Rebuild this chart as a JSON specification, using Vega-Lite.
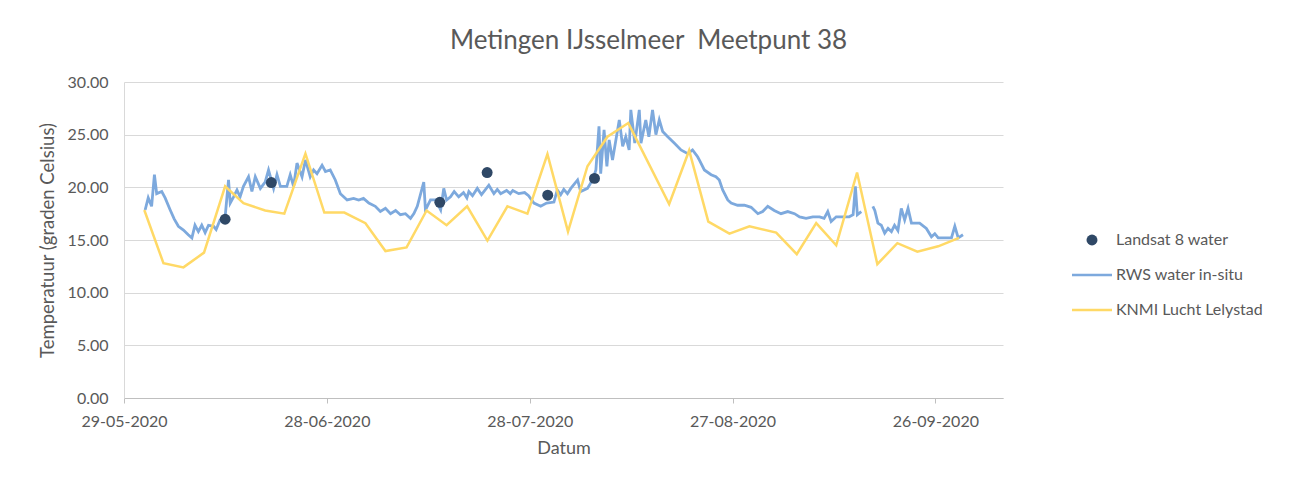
{
  "$schema": "https://vega.github.io/schema/vega-lite/v6.json",
  "width": 879,
  "height": 316,
  "autosize": {"type": "none"},
  "padding": {"left": 124, "top": 82, "right": 287, "bottom": 86},
  "background": "white",
  "title": {"text": "Metingen IJsselmeer\u00a0 Meetpunt 38", "font": "Lato", "fontSize": 26, "fontWeight": "normal", "color": "#595959", "anchor": "middle", "dx": 85, "offset": 20},
  "datasets": {
    "landsat": [
      {"datum": "2020-06-12T23:00", "temperatuur": 16.97},
      {"datum": "2020-06-19T19:00", "temperatuur": 20.45},
      {"datum": "2020-07-14T17:00", "temperatuur": 18.58},
      {"datum": "2020-07-21T17:00", "temperatuur": 21.4},
      {"datum": "2020-07-30T16:00", "temperatuur": 19.25},
      {"datum": "2020-08-06T14:00", "temperatuur": 20.85}
    ],
    "rws": [
      {"datum": "2020-06-01T03:00", "temperatuur": 17.85},
      {"datum": "2020-06-01T14:00", "temperatuur": 19.0},
      {"datum": "2020-06-02T02:00", "temperatuur": 18.2},
      {"datum": "2020-06-02T12:00", "temperatuur": 21.2},
      {"datum": "2020-06-02T20:00", "temperatuur": 19.4},
      {"datum": "2020-06-03T14:00", "temperatuur": 19.6},
      {"datum": "2020-06-04T02:00", "temperatuur": 19.0},
      {"datum": "2020-06-04T20:00", "temperatuur": 17.85},
      {"datum": "2020-06-05T10:00", "temperatuur": 17.0},
      {"datum": "2020-06-06T01:00", "temperatuur": 16.3},
      {"datum": "2020-06-06T19:00", "temperatuur": 15.95},
      {"datum": "2020-06-07T12:00", "temperatuur": 15.5},
      {"datum": "2020-06-08T01:00", "temperatuur": 15.2},
      {"datum": "2020-06-08T12:00", "temperatuur": 16.4},
      {"datum": "2020-06-09T00:00", "temperatuur": 15.8},
      {"datum": "2020-06-09T12:00", "temperatuur": 16.4},
      {"datum": "2020-06-10T00:00", "temperatuur": 15.7},
      {"datum": "2020-06-10T12:00", "temperatuur": 16.4},
      {"datum": "2020-06-11T06:00", "temperatuur": 16.3},
      {"datum": "2020-06-11T15:00", "temperatuur": 16.0},
      {"datum": "2020-06-12T05:00", "temperatuur": 16.9},
      {"datum": "2020-06-12T23:00", "temperatuur": 17.2},
      {"datum": "2020-06-13T11:00", "temperatuur": 20.7},
      {"datum": "2020-06-13T17:00", "temperatuur": 18.5},
      {"datum": "2020-06-14T05:00", "temperatuur": 19.1},
      {"datum": "2020-06-14T17:00", "temperatuur": 19.75},
      {"datum": "2020-06-15T04:00", "temperatuur": 19.1},
      {"datum": "2020-06-15T16:00", "temperatuur": 20.1},
      {"datum": "2020-06-16T10:00", "temperatuur": 21.0},
      {"datum": "2020-06-16T22:00", "temperatuur": 19.6},
      {"datum": "2020-06-17T10:00", "temperatuur": 21.0},
      {"datum": "2020-06-18T04:00", "temperatuur": 19.9},
      {"datum": "2020-06-18T21:00", "temperatuur": 20.5},
      {"datum": "2020-06-19T09:00", "temperatuur": 21.65},
      {"datum": "2020-06-20T03:00", "temperatuur": 19.9},
      {"datum": "2020-06-20T15:00", "temperatuur": 21.2},
      {"datum": "2020-06-21T03:00", "temperatuur": 20.1},
      {"datum": "2020-06-22T02:00", "temperatuur": 20.1},
      {"datum": "2020-06-22T14:00", "temperatuur": 21.2},
      {"datum": "2020-06-23T02:00", "temperatuur": 20.1},
      {"datum": "2020-06-23T14:00", "temperatuur": 22.3},
      {"datum": "2020-06-24T08:00", "temperatuur": 21.0},
      {"datum": "2020-06-24T20:00", "temperatuur": 22.6},
      {"datum": "2020-06-25T13:00", "temperatuur": 21.0},
      {"datum": "2020-06-26T01:00", "temperatuur": 21.65},
      {"datum": "2020-06-26T13:00", "temperatuur": 21.3},
      {"datum": "2020-06-27T07:00", "temperatuur": 22.1},
      {"datum": "2020-06-27T19:00", "temperatuur": 21.5},
      {"datum": "2020-06-28T12:00", "temperatuur": 21.65},
      {"datum": "2020-06-29T06:00", "temperatuur": 20.7},
      {"datum": "2020-06-30T00:00", "temperatuur": 19.4},
      {"datum": "2020-07-01T00:00", "temperatuur": 18.8},
      {"datum": "2020-07-01T23:00", "temperatuur": 18.95},
      {"datum": "2020-07-02T17:00", "temperatuur": 18.8},
      {"datum": "2020-07-03T10:00", "temperatuur": 18.95},
      {"datum": "2020-07-04T05:00", "temperatuur": 18.5},
      {"datum": "2020-07-05T04:00", "temperatuur": 18.2},
      {"datum": "2020-07-05T22:00", "temperatuur": 17.7},
      {"datum": "2020-07-06T16:00", "temperatuur": 18.0},
      {"datum": "2020-07-07T10:00", "temperatuur": 17.5},
      {"datum": "2020-07-08T04:00", "temperatuur": 17.8},
      {"datum": "2020-07-08T21:00", "temperatuur": 17.4},
      {"datum": "2020-07-09T15:00", "temperatuur": 17.5},
      {"datum": "2020-07-10T09:00", "temperatuur": 17.05},
      {"datum": "2020-07-10T21:00", "temperatuur": 17.5},
      {"datum": "2020-07-11T09:00", "temperatuur": 18.2},
      {"datum": "2020-07-12T08:00", "temperatuur": 20.5},
      {"datum": "2020-07-12T14:00", "temperatuur": 17.85},
      {"datum": "2020-07-13T08:00", "temperatuur": 18.8},
      {"datum": "2020-07-14T02:00", "temperatuur": 18.8},
      {"datum": "2020-07-14T20:00", "temperatuur": 17.85},
      {"datum": "2020-07-15T07:00", "temperatuur": 19.9},
      {"datum": "2020-07-15T17:00", "temperatuur": 18.8},
      {"datum": "2020-07-16T07:00", "temperatuur": 19.1},
      {"datum": "2020-07-16T20:00", "temperatuur": 19.6},
      {"datum": "2020-07-17T12:00", "temperatuur": 19.1},
      {"datum": "2020-07-18T05:00", "temperatuur": 19.5},
      {"datum": "2020-07-18T17:00", "temperatuur": 19.0},
      {"datum": "2020-07-19T00:00", "temperatuur": 19.6},
      {"datum": "2020-07-19T13:00", "temperatuur": 19.2},
      {"datum": "2020-07-20T06:00", "temperatuur": 19.9},
      {"datum": "2020-07-20T21:00", "temperatuur": 19.3},
      {"datum": "2020-07-21T23:00", "temperatuur": 20.2},
      {"datum": "2020-07-22T17:00", "temperatuur": 19.4},
      {"datum": "2020-07-23T05:00", "temperatuur": 19.8},
      {"datum": "2020-07-23T17:00", "temperatuur": 19.4},
      {"datum": "2020-07-24T14:00", "temperatuur": 19.7},
      {"datum": "2020-07-25T03:00", "temperatuur": 19.4},
      {"datum": "2020-07-25T12:00", "temperatuur": 19.7},
      {"datum": "2020-07-26T09:00", "temperatuur": 19.4},
      {"datum": "2020-07-27T06:00", "temperatuur": 19.5},
      {"datum": "2020-07-27T20:00", "temperatuur": 19.2},
      {"datum": "2020-07-28T15:00", "temperatuur": 18.5},
      {"datum": "2020-07-29T15:00", "temperatuur": 18.2},
      {"datum": "2020-07-30T12:00", "temperatuur": 18.5},
      {"datum": "2020-07-31T14:00", "temperatuur": 18.6},
      {"datum": "2020-08-01T02:00", "temperatuur": 19.75},
      {"datum": "2020-08-01T14:00", "temperatuur": 19.3},
      {"datum": "2020-08-02T01:00", "temperatuur": 19.8},
      {"datum": "2020-08-02T14:00", "temperatuur": 19.4},
      {"datum": "2020-08-03T02:00", "temperatuur": 19.9},
      {"datum": "2020-08-04T02:00", "temperatuur": 20.7},
      {"datum": "2020-08-04T13:00", "temperatuur": 19.6},
      {"datum": "2020-08-05T13:00", "temperatuur": 19.9},
      {"datum": "2020-08-06T07:00", "temperatuur": 20.7},
      {"datum": "2020-08-06T19:00", "temperatuur": 21.65},
      {"datum": "2020-08-07T06:00", "temperatuur": 25.8},
      {"datum": "2020-08-07T12:00", "temperatuur": 21.3},
      {"datum": "2020-08-08T00:00", "temperatuur": 25.45},
      {"datum": "2020-08-08T10:00", "temperatuur": 22.0},
      {"datum": "2020-08-08T18:00", "temperatuur": 24.5},
      {"datum": "2020-08-09T06:00", "temperatuur": 22.6},
      {"datum": "2020-08-09T18:00", "temperatuur": 24.5},
      {"datum": "2020-08-10T06:00", "temperatuur": 26.4},
      {"datum": "2020-08-10T18:00", "temperatuur": 23.9},
      {"datum": "2020-08-11T05:00", "temperatuur": 24.8},
      {"datum": "2020-08-11T17:00", "temperatuur": 23.55},
      {"datum": "2020-08-11T23:00", "temperatuur": 27.35},
      {"datum": "2020-08-12T13:00", "temperatuur": 24.2},
      {"datum": "2020-08-13T05:00", "temperatuur": 27.35},
      {"datum": "2020-08-13T11:00", "temperatuur": 24.2},
      {"datum": "2020-08-14T04:00", "temperatuur": 26.4},
      {"datum": "2020-08-14T15:00", "temperatuur": 24.8},
      {"datum": "2020-08-15T04:00", "temperatuur": 27.35},
      {"datum": "2020-08-15T16:00", "temperatuur": 25.0},
      {"datum": "2020-08-16T04:00", "temperatuur": 26.4},
      {"datum": "2020-08-16T16:00", "temperatuur": 25.3},
      {"datum": "2020-08-17T10:00", "temperatuur": 24.8},
      {"datum": "2020-08-18T09:00", "temperatuur": 24.2},
      {"datum": "2020-08-19T09:00", "temperatuur": 23.55},
      {"datum": "2020-08-20T09:00", "temperatuur": 23.2},
      {"datum": "2020-08-21T02:00", "temperatuur": 23.55},
      {"datum": "2020-08-21T20:00", "temperatuur": 22.9},
      {"datum": "2020-08-22T02:00", "temperatuur": 22.6},
      {"datum": "2020-08-22T20:00", "temperatuur": 21.65},
      {"datum": "2020-08-23T20:00", "temperatuur": 21.2},
      {"datum": "2020-08-24T13:00", "temperatuur": 21.0},
      {"datum": "2020-08-25T01:00", "temperatuur": 20.7},
      {"datum": "2020-08-25T13:00", "temperatuur": 19.75},
      {"datum": "2020-08-26T07:00", "temperatuur": 18.8},
      {"datum": "2020-08-26T19:00", "temperatuur": 18.5},
      {"datum": "2020-08-27T18:00", "temperatuur": 18.3},
      {"datum": "2020-08-28T18:00", "temperatuur": 18.3},
      {"datum": "2020-08-29T18:00", "temperatuur": 18.1},
      {"datum": "2020-08-30T18:00", "temperatuur": 17.5},
      {"datum": "2020-08-31T11:00", "temperatuur": 17.7},
      {"datum": "2020-09-01T05:00", "temperatuur": 18.2},
      {"datum": "2020-09-02T04:00", "temperatuur": 17.8},
      {"datum": "2020-09-03T04:00", "temperatuur": 17.5},
      {"datum": "2020-09-04T04:00", "temperatuur": 17.7},
      {"datum": "2020-09-05T04:00", "temperatuur": 17.5},
      {"datum": "2020-09-05T22:00", "temperatuur": 17.2},
      {"datum": "2020-09-06T21:00", "temperatuur": 17.05},
      {"datum": "2020-09-07T21:00", "temperatuur": 17.2},
      {"datum": "2020-09-08T21:00", "temperatuur": 17.2},
      {"datum": "2020-09-09T13:00", "temperatuur": 17.05},
      {"datum": "2020-09-10T02:00", "temperatuur": 17.7},
      {"datum": "2020-09-10T14:00", "temperatuur": 16.75},
      {"datum": "2020-09-11T08:00", "temperatuur": 17.2},
      {"datum": "2020-09-12T08:00", "temperatuur": 17.2},
      {"datum": "2020-09-13T06:00", "temperatuur": 17.2},
      {"datum": "2020-09-13T20:00", "temperatuur": 17.4},
      {"datum": "2020-09-14T04:00", "temperatuur": 20.1},
      {"datum": "2020-09-14T11:00", "temperatuur": 17.4},
      {"datum": "2020-09-15T01:00", "temperatuur": 17.7},
      {"datum": "2020-09-15T12:00", "temperatuur": null},
      {"datum": "2020-09-16T18:00", "temperatuur": 18.2},
      {"datum": "2020-09-17T01:00", "temperatuur": 17.8},
      {"datum": "2020-09-17T12:00", "temperatuur": 16.6},
      {"datum": "2020-09-18T00:00", "temperatuur": 16.4},
      {"datum": "2020-09-18T12:00", "temperatuur": 15.65},
      {"datum": "2020-09-19T00:00", "temperatuur": 16.1},
      {"datum": "2020-09-19T12:00", "temperatuur": 15.8},
      {"datum": "2020-09-19T23:00", "temperatuur": 16.4},
      {"datum": "2020-09-20T11:00", "temperatuur": 15.9},
      {"datum": "2020-09-20T23:00", "temperatuur": 18.0},
      {"datum": "2020-09-21T11:00", "temperatuur": 16.9},
      {"datum": "2020-09-21T23:00", "temperatuur": 18.0},
      {"datum": "2020-09-22T11:00", "temperatuur": 16.6},
      {"datum": "2020-09-22T22:00", "temperatuur": 16.6},
      {"datum": "2020-09-23T16:00", "temperatuur": 16.6},
      {"datum": "2020-09-24T16:00", "temperatuur": 16.1},
      {"datum": "2020-09-25T10:00", "temperatuur": 15.3},
      {"datum": "2020-09-25T22:00", "temperatuur": 15.6},
      {"datum": "2020-09-26T10:00", "temperatuur": 15.2},
      {"datum": "2020-09-27T09:00", "temperatuur": 15.2},
      {"datum": "2020-09-28T09:00", "temperatuur": 15.2},
      {"datum": "2020-09-28T21:00", "temperatuur": 16.3},
      {"datum": "2020-09-29T09:00", "temperatuur": 15.2},
      {"datum": "2020-09-30T02:00", "temperatuur": 15.5}
    ],
    "knmi": [
      {"datum": "2020-06-01T00:00", "temperatuur": 17.85},
      {"datum": "2020-06-03T20:00", "temperatuur": 12.8},
      {"datum": "2020-06-06T19:00", "temperatuur": 12.4},
      {"datum": "2020-06-09T20:00", "temperatuur": 13.8},
      {"datum": "2020-06-12T23:00", "temperatuur": 20.1},
      {"datum": "2020-06-15T16:00", "temperatuur": 18.5},
      {"datum": "2020-06-18T21:00", "temperatuur": 17.8},
      {"datum": "2020-06-21T17:00", "temperatuur": 17.5},
      {"datum": "2020-06-24T20:00", "temperatuur": 23.2},
      {"datum": "2020-06-27T15:00", "temperatuur": 17.6},
      {"datum": "2020-06-30T14:00", "temperatuur": 17.6},
      {"datum": "2020-07-03T17:00", "temperatuur": 16.6},
      {"datum": "2020-07-06T16:00", "temperatuur": 13.95},
      {"datum": "2020-07-09T19:00", "temperatuur": 14.3},
      {"datum": "2020-07-12T18:00", "temperatuur": 17.8},
      {"datum": "2020-07-15T17:00", "temperatuur": 16.4},
      {"datum": "2020-07-18T18:00", "temperatuur": 18.2},
      {"datum": "2020-07-21T18:00", "temperatuur": 14.95},
      {"datum": "2020-07-24T17:00", "temperatuur": 18.2},
      {"datum": "2020-07-27T16:00", "temperatuur": 17.5},
      {"datum": "2020-07-30T15:00", "temperatuur": 23.15},
      {"datum": "2020-08-02T16:00", "temperatuur": 15.8},
      {"datum": "2020-08-05T13:00", "temperatuur": 22.0},
      {"datum": "2020-08-08T12:00", "temperatuur": 24.8},
      {"datum": "2020-08-11T14:00", "temperatuur": 26.1},
      {"datum": "2020-08-17T15:00", "temperatuur": 18.4},
      {"datum": "2020-08-20T14:00", "temperatuur": 23.5},
      {"datum": "2020-08-23T10:00", "temperatuur": 16.75},
      {"datum": "2020-08-26T13:00", "temperatuur": 15.6},
      {"datum": "2020-08-29T12:00", "temperatuur": 16.3},
      {"datum": "2020-09-02T11:00", "temperatuur": 15.7},
      {"datum": "2020-09-05T12:00", "temperatuur": 13.65},
      {"datum": "2020-09-08T09:00", "temperatuur": 16.6},
      {"datum": "2020-09-11T08:00", "temperatuur": 14.5},
      {"datum": "2020-09-14T10:00", "temperatuur": 21.4},
      {"datum": "2020-09-17T10:00", "temperatuur": 12.7},
      {"datum": "2020-09-20T09:00", "temperatuur": 14.7},
      {"datum": "2020-09-23T08:00", "temperatuur": 13.9},
      {"datum": "2020-09-26T10:00", "temperatuur": 14.4},
      {"datum": "2020-09-29T12:00", "temperatuur": 15.2}
    ]
  },
  "encoding": {
    "x": {
      "field": "datum", "type": "temporal", "title": "Datum",
      "scale": {"domain": [{"year": 2020, "month": 5, "date": 29}, {"year": 2020, "month": 10, "date": 6}]},
      "axis": {
        "values": [{"year": 2020, "month": 5, "date": 29}, {"year": 2020, "month": 6, "date": 28}, {"year": 2020, "month": 7, "date": 28}, {"year": 2020, "month": 8, "date": 27}, {"year": 2020, "month": 9, "date": 26}],
        "format": "%d-%m-%Y", "grid": false, "labelOverlap": false, "labelFlush": false,
        "tickSize": 5, "tickColor": "#BFBFBF", "domainColor": "#BFBFBF", "labelPadding": 10, "titlePadding": 10, "titleFontSize": 18
      }
    },
    "y": {
      "field": "temperatuur", "type": "quantitative", "title": "Temperatuur (graden Celsius)",
      "scale": {"domain": [0, 30], "nice": false, "zero": true},
      "axis": {
        "values": [0, 5, 10, 15, 20, 25, 30], "format": ".2f", "ticks": false, "grid": true,
        "gridColor": "#D9D9D9", "domainColor": "#D9D9D9", "labelPadding": 16, "titlePadding": 10, "titleFontSize": 18.5
      }
    }
  },
  "layer": [
    {
      "data": {"name": "rws"},
      "mark": {"type": "line", "strokeWidth": 2.8, "invalid": "break-paths-filter-domains", "interpolate": "linear"},
      "encoding": {
        "color": {
          "datum": "RWS water in-situ", "type": "nominal",
          "scale": {"domain": ["Landsat 8 water", "RWS water in-situ", "KNMI Lucht Lelystad"], "range": ["#2F4866", "#7DA9DD", "#FFD966"]},
          "legend": {
            "orient": "none", "legendX": 960, "legendY": 150, "title": null, "padding": 0,
            "symbolSize": 900, "rowPadding": 19, "labelOffset": 16,
            "labelFont": "Lato", "labelFontSize": 16, "labelColor": "#595959",
            "encode": {"symbols": {"update": {
              "shape": {"signal": "datum.value === 'Landsat 8 water' ? 'circle' : 'stroke'"},
              "size": {"signal": "datum.value === 'Landsat 8 water' ? 120 : 1600"},
              "fill": {"signal": "datum.value === 'Landsat 8 water' ? scale('color', datum.value) : 'transparent'"},
              "stroke": {"signal": "scale('color', datum.value)"},
              "strokeWidth": {"signal": "datum.value === 'Landsat 8 water' ? 0 : 2.5"},
              "opacity": {"value": 1}
            }}}
          }
        }
      }
    },
    {
      "data": {"name": "knmi"},
      "mark": {"type": "line", "strokeWidth": 2.5},
      "encoding": {"color": {"datum": "KNMI Lucht Lelystad", "type": "nominal"}}
    },
    {
      "data": {"name": "landsat"},
      "mark": {"type": "point", "filled": true, "opacity": 1, "size": 120},
      "encoding": {"color": {"datum": "Landsat 8 water", "type": "nominal"}}
    }
  ],
  "config": {
    "view": {"stroke": null},
    "font": "Lato",
    "axis": {
      "labelFont": "Lato", "labelFontSize": 16, "labelColor": "#595959",
      "titleFont": "Lato", "titleFontSize": 17, "titleColor": "#595959", "titleFontWeight": "normal"
    }
  }
}
